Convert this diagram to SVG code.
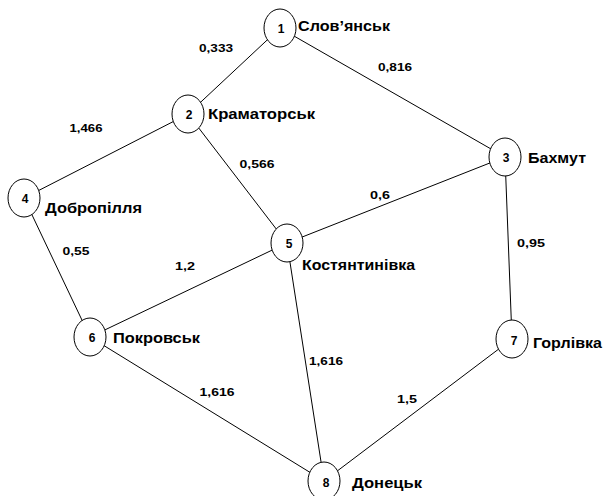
<svg xmlns="http://www.w3.org/2000/svg" width="604" height="496" viewBox="0 0 604 496">
<style>
.bg{fill:#ffffff}
.edge{stroke:#000;stroke-width:1;fill:none}
.node{fill:#fff;stroke:#000;stroke-width:1}
.num{font-family:"Liberation Sans","DejaVu Sans",sans-serif;font-weight:bold;font-size:12px;fill:#000;text-anchor:middle}
.name{font-family:"Liberation Sans","DejaVu Sans",sans-serif;font-weight:bold;font-size:15px;fill:#000}
.w{font-family:"Liberation Sans","DejaVu Sans",sans-serif;font-weight:bold;font-size:11px;fill:#000;text-anchor:middle}
</style>
<rect class="bg" x="0" y="0" width="604" height="496"/>
<g id="connectors">
<line class="edge" x1="280" y1="28" x2="188" y2="114"/>
<line class="edge" x1="280" y1="28" x2="505" y2="157"/>
<line class="edge" x1="188" y1="114" x2="24" y2="198"/>
<line class="edge" x1="188" y1="114" x2="287" y2="243"/>
<line class="edge" x1="505" y1="157" x2="287" y2="243"/>
<line class="edge" x1="505" y1="157" x2="512" y2="339"/>
<line class="edge" x1="24" y1="198" x2="90" y2="337"/>
<line class="edge" x1="287" y1="243" x2="90" y2="337"/>
<line class="edge" x1="287" y1="243" x2="324" y2="481"/>
<line class="edge" x1="90" y1="337" x2="324" y2="481"/>
<line class="edge" x1="512" y1="339" x2="324" y2="481"/>
<text class="w" x="216" y="52" textLength="34" lengthAdjust="spacingAndGlyphs">0,333</text>
<text class="w" x="395" y="71" textLength="34" lengthAdjust="spacingAndGlyphs">0,816</text>
<text class="w" x="86" y="132" textLength="33" lengthAdjust="spacingAndGlyphs">1,466</text>
<text class="w" x="257" y="168" textLength="35" lengthAdjust="spacingAndGlyphs">0,566</text>
<text class="w" x="380" y="199" textLength="20" lengthAdjust="spacingAndGlyphs">0,6</text>
<text class="w" x="76" y="255" textLength="27" lengthAdjust="spacingAndGlyphs">0,55</text>
<text class="w" x="185" y="270" textLength="20" lengthAdjust="spacingAndGlyphs">1,2</text>
<text class="w" x="531" y="247" textLength="28" lengthAdjust="spacingAndGlyphs">0,95</text>
<text class="w" x="326" y="365" textLength="34" lengthAdjust="spacingAndGlyphs">1,616</text>
<text class="w" x="217" y="396" textLength="35" lengthAdjust="spacingAndGlyphs">1,616</text>
<text class="w" x="407" y="403" textLength="20" lengthAdjust="spacingAndGlyphs">1,5</text>
</g>
<g id="node1">
<ellipse class="node" cx="280" cy="28" rx="16" ry="19"/>
<text class="num" x="281" y="33">1</text>
<text class="name" x="298" y="31" textLength="92" lengthAdjust="spacingAndGlyphs">Слов’янськ</text>
</g>
<g id="node2">
<ellipse class="node" cx="188" cy="114" rx="16" ry="19"/>
<text class="num" x="189" y="119">2</text>
<text class="name" x="208" y="119" textLength="107" lengthAdjust="spacingAndGlyphs">Краматорськ</text>
</g>
<g id="node3">
<ellipse class="node" cx="505" cy="157" rx="16" ry="19"/>
<text class="num" x="506" y="162">3</text>
<text class="name" x="528" y="163" textLength="58" lengthAdjust="spacingAndGlyphs">Бахмут</text>
</g>
<g id="node4">
<ellipse class="node" cx="24" cy="198" rx="16" ry="19"/>
<text class="num" x="25" y="203">4</text>
<text class="name" x="45" y="213" textLength="97" lengthAdjust="spacingAndGlyphs">Добропілля</text>
</g>
<g id="node5">
<ellipse class="node" cx="287" cy="243" rx="16" ry="19"/>
<text class="num" x="289" y="248">5</text>
<text class="name" x="302" y="270" textLength="113" lengthAdjust="spacingAndGlyphs">Костянтинівка</text>
</g>
<g id="node6">
<ellipse class="node" cx="90" cy="337" rx="16" ry="19"/>
<text class="num" x="92" y="342">6</text>
<text class="name" x="113" y="343" textLength="87" lengthAdjust="spacingAndGlyphs">Покровськ</text>
</g>
<g id="node7">
<ellipse class="node" cx="512" cy="339" rx="16" ry="19"/>
<text class="num" x="514" y="345">7</text>
<text class="name" x="533" y="348" textLength="69" lengthAdjust="spacingAndGlyphs">Горлівка</text>
</g>
<g id="node8">
<ellipse class="node" cx="324" cy="481" rx="16" ry="19"/>
<text class="num" x="326" y="487">8</text>
<text class="name" x="352" y="488" textLength="70" lengthAdjust="spacingAndGlyphs">Донецьк</text>
</g>
</svg>
